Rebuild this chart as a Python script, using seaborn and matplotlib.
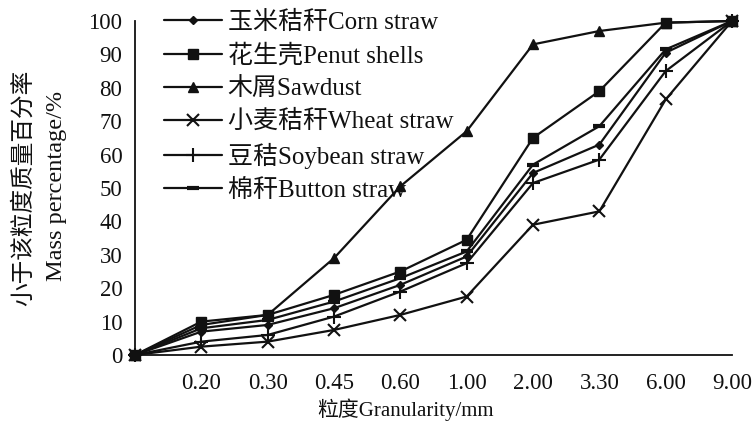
import numpy as np
import matplotlib
matplotlib.use("Agg")
import matplotlib.pyplot as plt
import seaborn as sns

# Sieve sizes (first position is the origin, left unlabeled)
categories = ["", "0.20", "0.30", "0.45", "0.60", "1.00", "2.00", "3.30", "6.00", "9.00"]

# Cumulative mass percentage passing each size
corn_straw = [0, 7, 9, 14, 21, 29.5, 54.5, 63, 90.5, 100]
peanut_shells = [0, 10, 12, 18, 25, 34.5, 65, 79, 99.5, 100]
sawdust = [0, 9, 12, 29, 50.5, 67, 93, 97, 99.5, 100]
wheat_straw = [0, 2.5, 4, 7.5, 12, 17.5, 39, 43, 76.5, 100]
soybean_straw = [0, 4, 6, 11.5, 19, 27.5, 51.5, 58.5, 85, 100]
button_straw = [0, 8, 10.5, 16, 23, 31, 57, 68.5, 91.5, 100]

labels = ["玉米秸秆Corn straw", "花生壳Penut shells", "木屑Sawdust",
          "小麦秸秆Wheat straw", "豆秸Soybean straw", "棉秆Button straw"]
series = [corn_straw, peanut_shells, sawdust, wheat_straw, soybean_straw, button_straw]

sns.set_theme(style="white")
plt.rcParams["font.family"] = ["Liberation Serif", "Noto Sans CJK SC"]

fig = plt.figure(figsize=(7.54, 4.26), dpi=100)
ax = fig.add_axes([135 / 754, 71 / 426, 597 / 754, 334 / 426])

ink = "#111111"
styles = [
    dict(marker="D", markersize=4.5, markeredgewidth=1.0),
    dict(marker="s", markersize=7.5, markeredgewidth=1.0),
    dict(marker="^", markersize=7, markeredgewidth=1.0),
    dict(marker="x", markersize=9, markeredgewidth=1.5),
    dict(marker="+", markersize=10, markeredgewidth=1.5),
    dict(marker="_", markersize=9, markeredgewidth=3.0),
]

x = np.arange(len(categories))
for vals, lab, st in zip(series, labels, styles):
    sns.lineplot(x=x, y=vals, ax=ax, color=ink, linewidth=1.6, label=lab,
                 markerfacecolor=ink, markeredgecolor=ink, clip_on=False, **st)

ax.set_xlim(0, len(categories) - 1)
ax.set_ylim(0, 100)
ax.set_xticks(x[1:])
ax.set_xticklabels(categories[1:])
ax.set_yticks(np.arange(0, 101, 10))

for side in ["top", "right"]:
    ax.spines[side].set_visible(False)
for side in ["left", "bottom"]:
    ax.spines[side].set_color(ink)
    ax.spines[side].set_linewidth(1.3)

ax.tick_params(axis="x", direction="in", length=7, width=1.3, color=ink,
               labelsize=16.5, pad=13, labelcolor=ink)
ax.tick_params(axis="y", direction="in", length=6, width=1.3, color=ink,
               labelsize=16.5, pad=9, labelcolor=ink)
ax.set_xlabel("")
ax.set_ylabel("")

fig.text(406 / 754, 1 - 410 / 426, "粒度Granularity/mm", ha="center", va="center",
         fontsize=15, color=ink)
fig.text(24 / 754, 1 - 188 / 426, "小于该粒度质量百分率", rotation=90,
         ha="center", va="center", fontsize=17, color=ink)
fig.text(57 / 754, 1 - 186 / 426, "Mass percentage/%", rotation=90,
         ha="center", va="center", fontsize=17.5, color=ink)

leg = ax.legend(loc="upper left", bbox_to_anchor=(164 / 754, 1 - 11 / 426),
                bbox_transform=fig.transFigure, frameon=False, fontsize=18,
                handlelength=2.3, handletextpad=0.24, labelspacing=0.39,
                borderpad=0, borderaxespad=0)
for t in leg.get_texts():
    t.set_color(ink)

fig.savefig("out.png", dpi=100, facecolor="white")
